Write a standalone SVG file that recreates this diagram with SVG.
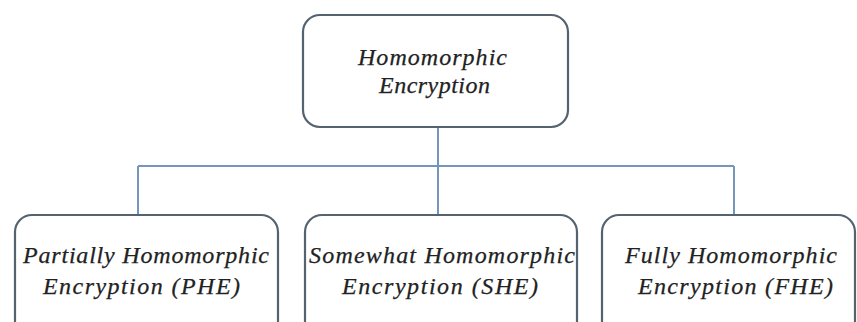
<svg xmlns="http://www.w3.org/2000/svg" width="857" height="322" viewBox="0 0 857 322">
<style>
.box{fill:#fff;stroke:#55626f;stroke-width:2.2}
.conn{fill:none;stroke:#7396ba;stroke-width:2}
.t{font-family:"Liberation Serif","Times New Roman",serif;font-style:italic;font-size:24px;fill:#222;stroke:#222;stroke-width:0.25}
</style>
<rect width="857" height="322" fill="#fff"/>
<g id="connectors">
<path class="conn" d="M438 127 V215"/>
<path class="conn" d="M138 166 H734"/>
<path class="conn" d="M138 166 V215"/>
<path class="conn" d="M734 166 V215"/>
</g>
<g id="he">
<rect class="box" x="303" y="15" width="265" height="112" rx="17"/>
<text class="t" x="358" y="65" textLength="149" lengthAdjust="spacing">Homomorphic</text>
<text class="t" x="379" y="93" textLength="111" lengthAdjust="spacing">Encryption</text>
</g>
<g id="phe">
<rect class="box" x="15" y="215" width="263" height="130" rx="17"/>
<text class="t" x="23" y="263" textLength="246" lengthAdjust="spacing">Partially Homomorphic</text>
<text class="t" x="43" y="294" textLength="197" lengthAdjust="spacing">Encryption (PHE)</text>
</g>
<g id="she">
<rect class="box" x="305" y="215" width="272" height="130" rx="17"/>
<text class="t" x="309" y="263" textLength="266" lengthAdjust="spacing">Somewhat Homomorphic</text>
<text class="t" x="342" y="294" textLength="196" lengthAdjust="spacing">Encryption (SHE)</text>
</g>
<g id="fhe">
<rect class="box" x="602" y="215" width="253" height="130" rx="17"/>
<text class="t" x="625" y="263" textLength="212" lengthAdjust="spacing">Fully Homomorphic</text>
<text class="t" x="638" y="294" textLength="195" lengthAdjust="spacing">Encryption (FHE)</text>
</g>
</svg>
